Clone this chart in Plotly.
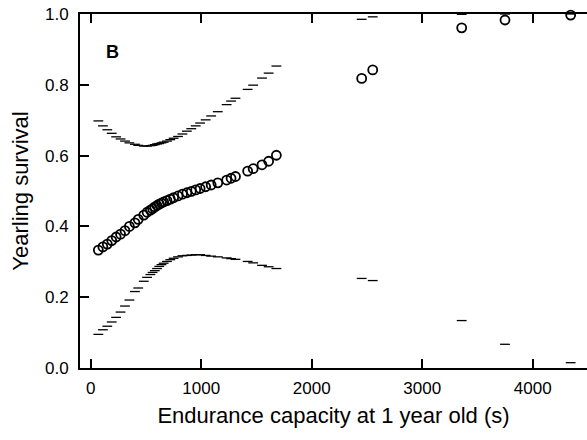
import plotly.graph_objects as go

# Endurance capacity (s) for each yearling
endurance = [69, 110, 150, 190, 230, 270, 310, 350, 400, 430, 480, 510, 540, 560, 580,
             600, 620, 640, 660, 690, 720, 750, 790, 830, 870, 910, 950, 990, 1040, 1090,
             1150, 1230, 1270, 1310, 1420, 1470, 1550, 1610, 1680,
             2452, 2552, 3357, 3749, 4343]

# Predicted yearling survival
survival = [0.333, 0.342, 0.350, 0.360, 0.370, 0.378, 0.388, 0.400, 0.410, 0.420, 0.432,
            0.440, 0.446, 0.450, 0.455, 0.459, 0.463, 0.466, 0.469, 0.473, 0.477, 0.481,
            0.486, 0.491, 0.495, 0.499, 0.503, 0.507, 0.512, 0.517, 0.523, 0.531, 0.536,
            0.541, 0.556, 0.563, 0.574, 0.584, 0.601,
            0.818, 0.842, 0.961, 0.983, 0.997]

# Upper confidence limit
upper = [0.698, 0.684, 0.673, 0.663, 0.653, 0.647, 0.641, 0.636, 0.632, 0.629, 0.627,
         0.627, 0.628, 0.629, 0.631, 0.633, 0.634, 0.636, 0.638, 0.641, 0.645, 0.649,
         0.654, 0.661, 0.669, 0.676, 0.684, 0.692, 0.701, 0.712, 0.724, 0.744, 0.754,
         0.762, 0.787, 0.799, 0.819, 0.833, 0.853,
         0.985, 0.992, 0.999, 1.000, 1.000]

# Lower confidence limit
lower = [0.095, 0.108, 0.118, 0.130, 0.143, 0.158, 0.175, 0.192, 0.216, 0.226, 0.245,
         0.256, 0.264, 0.270, 0.275, 0.281, 0.287, 0.292, 0.296, 0.301, 0.306, 0.310,
         0.314, 0.317, 0.318, 0.319, 0.320, 0.320, 0.318, 0.316, 0.314, 0.311, 0.309,
         0.307, 0.301, 0.297, 0.290, 0.286, 0.281,
         0.253, 0.247, 0.134, 0.067, 0.015]

x_ticks = [0, 1000, 2000, 3000, 4000]
y_ticks = [0.0, 0.2, 0.4, 0.6, 0.8, 1.0]
y_tick_labels = ["0.0", "0.2", "0.4", "0.6", "0.8", "1.0"]

FONT = "Liberation Sans, Arial, Helvetica, sans-serif"

fig = go.Figure()

for ci in (upper, lower):
    fig.add_trace(go.Scatter(
        x=endurance, y=ci, mode="markers",
        marker=dict(symbol="line-ew-open", size=7, color="black",
                    line=dict(color="black", width=1.3)),
        cliponaxis=False, showlegend=False, hoverinfo="skip"))

fig.add_trace(go.Scatter(
    x=endurance, y=survival, mode="markers",
    marker=dict(symbol="circle-open", size=9, color="black",
                line=dict(color="black", width=1.8)),
    cliponaxis=False, showlegend=False))

fig.add_annotation(text="<b>B</b>", xref="paper", yref="paper",
                   x=0.065, y=0.893, xanchor="center", yanchor="middle",
                   showarrow=False,
                   font=dict(family=FONT, size=18, color="black"))

fig.update_layout(
    width=587, height=440,
    margin=dict(l=80, r=0, t=14, b=72),
    paper_bgcolor="white", plot_bgcolor="white",
    font=dict(family=FONT, color="black"),
    xaxis=dict(
        range=[-97, 4491], tickvals=x_ticks, ticks="inside", ticklen=9,
        tickwidth=2, tickcolor="black", showline=True, linecolor="black",
        linewidth=2, mirror="ticks", showgrid=False, zeroline=False,
        tickfont=dict(size=17), ticklabelstandoff=4, automargin=False,
        title=dict(text="Endurance capacity at 1 year old (s)",
                   font=dict(size=22), standoff=10)),
    yaxis=dict(
        range=[0, 1], tickvals=y_ticks, ticktext=y_tick_labels, ticks="inside",
        ticklen=9, tickwidth=2, tickcolor="black", showline=True,
        linecolor="black", linewidth=2, showgrid=False, zeroline=False,
        tickfont=dict(size=17), ticklabelstandoff=6, automargin=False,
        title=dict(text="Yearling survival", font=dict(size=22), standoff=10)),
)

fig.write_html("out.html", config={"displayModeBar": False},
               post_script="document.body.style.margin='0px';")
